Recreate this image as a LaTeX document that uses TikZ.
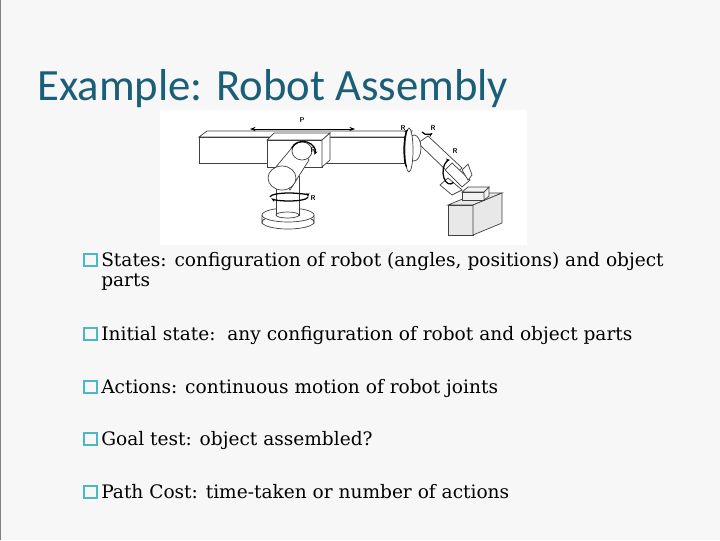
\documentclass[tikz,border=0pt]{standalone}
\usepackage{fontspec}
\setmainfont{DejaVu Serif}
\newfontfamily\titlefont{Carlito}
\usepackage{tikz}
\usetikzlibrary{arrows.meta}
\definecolor{titleblue}{HTML}{1B5E78}
\definecolor{bulletteal}{HTML}{4BB8C4}
\definecolor{slidebg}{HTML}{F7F7F7}
\tikzset{
  item/.style={anchor=base west, inner sep=0pt, font=\fontsize{13.2}{16}\selectfont},
  bulletbox/.style={draw=bulletteal, line width=1.3pt, minimum size=9pt, inner sep=0pt},
  part/.style={draw=black!75, fill=white, line width=0.5pt},
  turn/.style={-{Stealth[length=3pt]}, line width=0.9pt},
  rlabel/.style={font=\sffamily\bfseries\fontsize{5}{6}\selectfont, inner sep=0pt}
}
\begin{document}
\begin{tikzpicture}[x=0.025cm, y=-0.025cm]
  \fill[slidebg] (0,0) rectangle (720,540);
  \useasboundingbox (0,0) rectangle (720,540);
  \draw[gray, line width=1pt] (0.5,0) -- (0.5,540);
  \node[anchor=base west, inner sep=0pt, text=titleblue, font=\titlefont\fontsize{31.8}{36}\selectfont] (title) at (37,100) {Example: Robot Assembly};
  % robot picture
  \fill[white] (160,110) rectangle (527,245);
  % beam
  \draw[part] (199,137) -- (207,131) -- (412,131) -- (404,137) -- cycle;
  \draw[part] (199,137) rectangle (404,163);
  % carriage
  \draw[part] (267,140) -- (274,133) -- (330,133) -- (322,140) -- cycle;
  \draw[part] (267,140) rectangle (322,167);
  \draw[part] (322,140) -- (330,133) -- (330,160) -- (322,167) -- cycle;
  % P arrow
  \draw[{Stealth[length=4pt]}-{Stealth[length=4pt]}, line width=0.6pt] (250,129) -- (355,129);
  \node[rlabel] (P) at (302,120) {P};
  % column and base
  \draw[part] (288,222) ellipse [x radius=26, y radius=7];
  \draw[part] (262,215) -- (262,222) arc[start angle=180, end angle=360, x radius=26, y radius=7] -- (314,215);
  \draw[part] (288,215) ellipse [x radius=26, y radius=7];
  \draw[part] (276,176) rectangle (299,215);
  \draw[part] (287.5,215) ellipse [x radius=11.5, y radius=3];
  % upper arm
  \draw[part] (296,143) -- (309,160) -- (290,190) -- (275,168) -- cycle;
  \draw[part] (302,151) ellipse [x radius=10, y radius=9];
  \draw[part] (282,178) ellipse [x radius=14, y radius=12];
  % wrist and gripper
  \draw[part] (418,143) -- (428,136) -- (462,168) -- (452,176) -- cycle;
  \draw[part] (414,148) ellipse [x radius=7, y radius=13];
  \draw[part] (409,150) ellipse [x radius=4, y radius=22];
  \draw[part] (445,170) -- (452,163) -- (470,180) -- (462,187) -- cycle;
  \draw[part] (440,185) -- (448,178) -- (462,190) -- (452,195) -- cycle;
  \draw[part] (462,170) -- (468,164) -- (472,175) -- (468,180) -- cycle;
  % rotation marks
  \draw[turn] (291.7,148) arc[start angle=200, end angle=380, x radius=12, y radius=10];
  \draw[turn] (270,197) arc[start angle=180, end angle=360, x radius=19, y radius=4];
  \draw[turn] (308,197) arc[start angle=0, end angle=160, x radius=19, y radius=4];
  \draw[turn] (406.5,167) arc[start angle=120, end angle=260, x radius=5, y radius=20];
  \draw[turn] (422,132) arc[start angle=160, end angle=40, x radius=6, y radius=4];
  \draw[turn] (453.5,182.4) arc[start angle=60, end angle=270, x radius=7, y radius=12];
  \node[rlabel] (R1) at (313,150) {R};
  \node[rlabel] (R2) at (313,198) {R};
  \node[rlabel] (R3) at (403,128) {R};
  \node[rlabel] (R4) at (433,128) {R};
  \node[rlabel] (R5) at (455,151) {R};
  % object
  \draw[part, fill=gray!18] (448,205) -- (477,193) -- (502,193) -- (473,205) -- cycle;
  \draw[part, fill=gray!18] (448,205) rectangle (473,235);
  \draw[part, fill=gray!18] (473,205) -- (502,193) -- (502,223) -- (473,235) -- cycle;
  \draw[part, fill=gray!10] (462,192) -- (468,187) -- (489,187) -- (484,192) -- cycle;
  \draw[part, fill=gray!10] (462,192) rectangle (484,200);
  \draw[part, fill=gray!10] (484,192) -- (489,187) -- (489,196) -- (484,200) -- cycle;
  % bullets
  \foreach \n/\y in {states/266, initial/340, actions/393, goal/445, cost/498}
    \node[bulletbox] (b-\n) at (90.5,{\y-6}) {};
  \node[item] (states) at (101,266) {States: configuration of robot (angles, positions) and object};
  \node[item] (parts) at (101,286) {parts};
  \node[item] (initial) at (101,340) {Initial state:\ \ any configuration of robot and object parts};
  \node[item] (actions) at (101,393) {Actions: continuous motion of robot joints};
  \node[item] (goal) at (101,445) {Goal test: object assembled?};
  \node[item] (cost) at (101,498) {Path Cost: time-taken or number of actions};
\end{tikzpicture}
\end{document}
